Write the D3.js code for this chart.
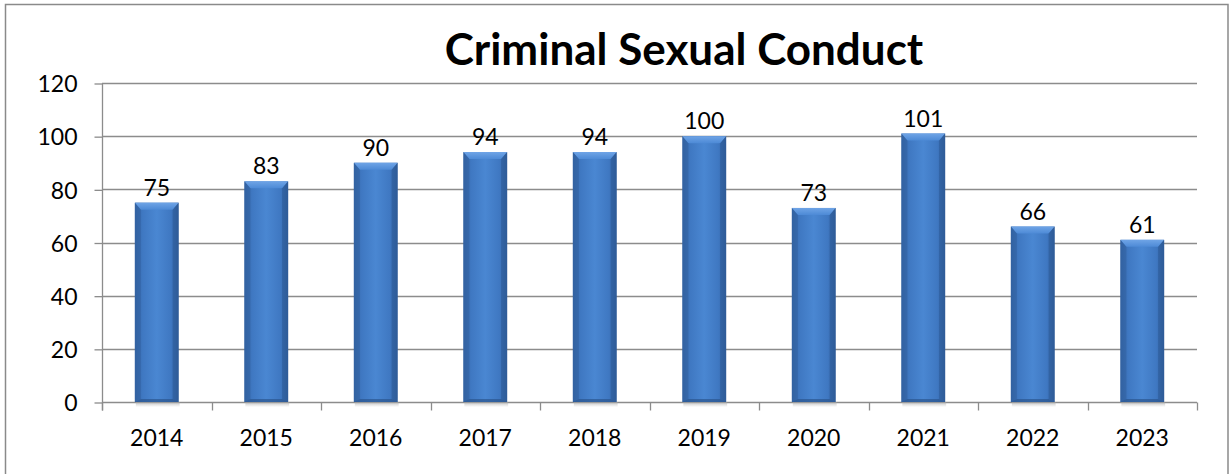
<!DOCTYPE html>
<html>
<head>
<meta charset="utf-8">
<script src="https://cdn.jsdelivr.net/npm/d3@7"></script>
<style>
  html, body { margin: 0; padding: 0; background: #fff; }
  svg { display: block; }
  text { font-family: Lato, "Open Sans", sans-serif; fill: #000; }
</style>
</head>
<body>
<svg id="chart" width="1231" height="474"></svg>
<script>
// Yearly counts of criminal sexual conduct offences
const years = ["2014", "2015", "2016", "2017", "2018", "2019", "2020", "2021", "2022", "2023"];
const counts = [75, 83, 90, 94, 94, 100, 73, 101, 66, 61];
const yTicks = [0, 20, 40, 60, 80, 100, 120];
const chartTitle = "Criminal Sexual Conduct";

const svg = d3.select("#chart");
const plot = { left: 102, right: 1197, top: 83, bottom: 402 };

// Outer frame
svg.append("rect")
  .attr("x", 5.5).attr("y", 4.5)
  .attr("width", 1222.5).attr("height", 480)
  .attr("fill", "#fff").attr("stroke", "#8a8a8a").attr("stroke-width", 1.5);

const x = d3.scaleBand().domain(years).range([plot.left, plot.right])
  .paddingInner(0.6).paddingOuter(0.3);
const xCat = d3.scaleBand().domain(years).range([plot.left, plot.right]);
const y = d3.scaleLinear().domain([0, 120]).range([plot.bottom, plot.top]);

// Gradients for the bevelled bars
const defs = svg.append("defs");
const body = defs.append("linearGradient").attr("id", "barBody")
  .attr("x1", 0).attr("x2", 1).attr("y1", 0).attr("y2", 0);
[[0, "#3566a6"], [0.18, "#3f78c2"], [0.5, "#4a87d2"], [0.82, "#3f78c2"], [1, "#3361a0"]]
  .forEach(([o, c]) => body.append("stop").attr("offset", o).attr("stop-color", c));
const topBevel = defs.append("linearGradient").attr("id", "barTop")
  .attr("x1", 0).attr("x2", 0).attr("y1", 0).attr("y2", 1);
[[0, "#6fa4e6"], [1, "#4d8ad6"]]
  .forEach(([o, c]) => topBevel.append("stop").attr("offset", o).attr("stop-color", c));
const shadow = defs.append("linearGradient").attr("id", "barShadow")
  .attr("x1", 0).attr("x2", 0).attr("y1", 0).attr("y2", 1);
[[0, "#9a9a9a"], [1, "#ffffff"]]
  .forEach(([o, c]) => shadow.append("stop").attr("offset", o).attr("stop-color", c));

// Horizontal gridlines
svg.append("g").selectAll("line").data(yTicks.filter(t => t > 0)).join("line")
  .attr("x1", plot.left).attr("x2", plot.right)
  .attr("y1", d => Math.round(y(d)) + 0.5).attr("y2", d => Math.round(y(d)) + 0.5)
  .attr("stroke", "#8c8c8c").attr("stroke-width", 1.3);

// Y axis
const yAxis = svg.append("g")
  .attr("transform", `translate(${plot.left + 0.5},0.5)`)
  .call(d3.axisLeft(y).tickValues(yTicks).tickSize(8).tickPadding(17));
yAxis.select(".domain").attr("stroke", "#8c8c8c").attr("stroke-width", 1.3)
  .attr("d", `M0,${plot.top}V${plot.bottom + 8}`);
yAxis.selectAll(".tick line").attr("stroke", "#8c8c8c").attr("stroke-width", 1.3);
yAxis.selectAll(".tick text").style("font-size", "23px").attr("dy", "0.36em")
  .style("font-family", "Lato, 'Open Sans', sans-serif").attr("fill", "#000");

// X axis with tick marks on category boundaries
const xAxisG = svg.append("g").attr("transform", `translate(0,${plot.bottom + 0.5})`);
xAxisG.append("line").attr("x1", plot.left).attr("x2", plot.right)
  .attr("stroke", "#8c8c8c").attr("stroke-width", 1.3);
const bounds = years.map(d => xCat(d)).concat([plot.right]);
xAxisG.selectAll("line.tk").data(bounds).join("line").attr("class", "tk")
  .attr("x1", d => Math.round(d) + 0.5).attr("x2", d => Math.round(d) + 0.5)
  .attr("y1", 0).attr("y2", 8)
  .attr("stroke", "#8c8c8c").attr("stroke-width", 1.3);
xAxisG.selectAll("text").data(years).join("text")
  .attr("x", d => xCat(d) + xCat.bandwidth() / 2)
  .attr("y", 43)
  .attr("text-anchor", "middle")
  .style("font-size", "23px")
  .text(d => d);

// Bars
const data = years.map((yr, i) => ({ yr, v: counts[i] }));
const bars = svg.append("g").selectAll("g").data(data).join("g");
const bev = 6;

bars.append("rect")
  .attr("x", d => x(d.yr) + 1).attr("y", plot.bottom)
  .attr("width", x.bandwidth()).attr("height", 5)
  .attr("fill", "url(#barShadow)").attr("opacity", 0.6);

bars.append("rect")
  .attr("x", d => x(d.yr)).attr("y", d => y(d.v))
  .attr("width", x.bandwidth()).attr("height", d => plot.bottom - y(d.v))
  .attr("fill", "url(#barBody)");

// top bevel face
bars.append("path")
  .attr("d", d => {
    const x0 = x(d.yr), x1 = x0 + x.bandwidth(), t = y(d.v);
    return `M${x0},${t}L${x1},${t}L${x1 - bev},${t + bev + 1}L${x0 + bev},${t + bev + 1}Z`;
  })
  .attr("fill", "url(#barTop)");

// side bevel faces
bars.append("path")
  .attr("d", d => {
    const x0 = x(d.yr), t = y(d.v);
    return `M${x0},${t}L${x0 + bev},${t + bev + 1}L${x0 + bev},${plot.bottom - 3}L${x0},${plot.bottom}Z`;
  })
  .attr("fill", "#2f5e9c").attr("opacity", 0.5);
bars.append("path")
  .attr("d", d => {
    const x1 = x(d.yr) + x.bandwidth(), t = y(d.v);
    return `M${x1},${t}L${x1 - bev},${t + bev + 1}L${x1 - bev},${plot.bottom - 3}L${x1},${plot.bottom}Z`;
  })
  .attr("fill", "#2a5590").attr("opacity", 0.5);
// bottom bevel face
bars.append("path")
  .attr("d", d => {
    const x0 = x(d.yr), x1 = x0 + x.bandwidth();
    return `M${x0},${plot.bottom}L${x0 + bev},${plot.bottom - 3}L${x1 - bev},${plot.bottom - 3}L${x1},${plot.bottom}Z`;
  })
  .attr("fill", "#2b568f").attr("opacity", 0.7);

// Value labels
bars.append("text")
  .attr("x", d => x(d.yr) + x.bandwidth() / 2)
  .attr("y", d => y(d.v) - 7)
  .attr("text-anchor", "middle")
  .style("font-size", "23px")
  .text(d => d.v);

// Title
svg.append("text")
  .attr("x", 684).attr("y", 65)
  .attr("text-anchor", "middle")
  .style("font-size", "44px").style("font-weight", "bold")
  .text(chartTitle);
</script>
</body>
</html>
